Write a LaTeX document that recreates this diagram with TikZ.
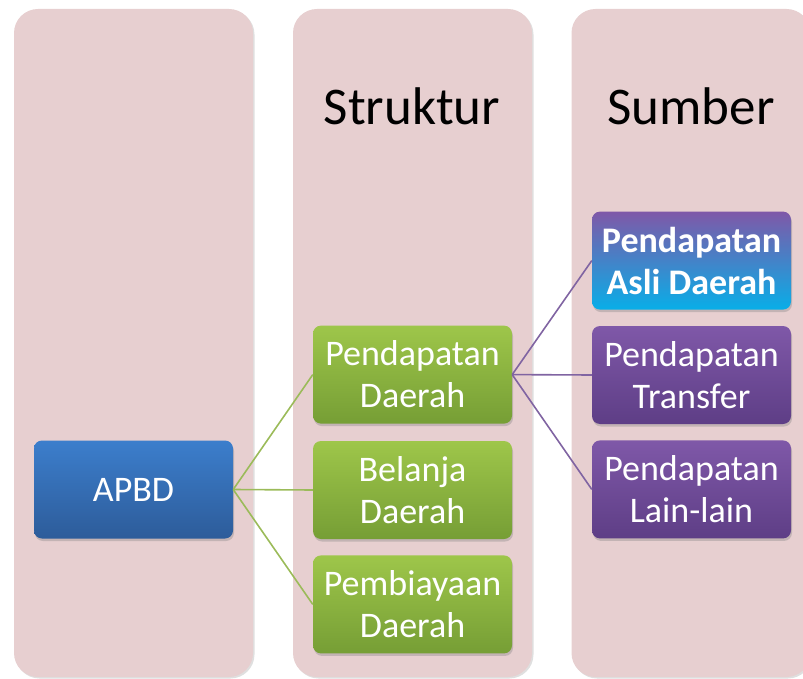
\documentclass[tikz,border=0pt]{standalone}
\usepackage{fontspec}
\setmainfont{Carlito}
\usetikzlibrary{positioning, shadows}

\definecolor{colpink}{RGB}{231,207,208}
\definecolor{apbdtop}{RGB}{60,126,204}
\definecolor{apbdbot}{RGB}{45,92,154}
\definecolor{greentop}{RGB}{158,198,74}
\definecolor{greenbot}{RGB}{118,158,53}
\definecolor{purpletop}{RGB}{127,88,168}
\definecolor{purplebot}{RGB}{94,62,134}
\definecolor{padbot}{RGB}{8,174,232}
\definecolor{greenlink}{RGB}{155,187,89}
\definecolor{purplelink}{RGB}{128,100,162}

\tikzset{
  column/.style={fill=colpink, rounded corners=24pt, minimum width=239pt, minimum height=668pt,
    inner sep=0pt, drop shadow={opacity=0.25, shadow xshift=1.5pt, shadow yshift=-1.5pt}},
  boxbase/.style={rounded corners=8pt, minimum width=199pt, minimum height=98pt, inner sep=0pt,
    align=center, text=white, font=\fontsize{36}{42}\selectfont,
    drop shadow={opacity=0.35, shadow xshift=1pt, shadow yshift=-2.5pt}},
  apbdbox/.style={boxbase, top color=apbdtop, bottom color=apbdbot},
  greenbox/.style={boxbase, top color=greentop, bottom color=greenbot},
  purplebox/.style={boxbase, top color=purpletop, bottom color=purplebot},
  padbox/.style={boxbase, top color=purpletop, bottom color=padbot, font=\fontsize{36}{42}\selectfont\bfseries},
  title/.style={anchor=base, font=\fontsize{53}{60}\selectfont},
  greenline/.style={draw=greenlink, line width=1.6pt},
  purpleline/.style={draw=purplelink, line width=1.6pt}
}

\begin{document}
\begin{tikzpicture}[x=1pt, y=-1pt]
  \useasboundingbox (0,0) rectangle (803,679);

  % columns
  \node[column] (col1) at (133.5,343) {};
  \node[column] (col2) at (412.5,343) {};
  \node[column] (col3) at (691,343) {};

  \node[title] (struktur) at (412,125) {Struktur};
  \node[title] (sumber) at (691,125) {Sumber};

  % APBD
  \node[apbdbox] (apbd) at (133.5,489.5) {APBD};

  % struktur
  \node[greenbox] (belanja) at (412.5,490) {Belanja\\Daerah};
  \node[greenbox, above=17pt of belanja] (pendapatan) {Pendapatan\\Daerah};
  \node[greenbox, below=16pt of belanja] (pembiayaan) {Pembiayaan\\Daerah};

  % sumber
  \node[purplebox] (transfer) at (691.5,375) {Pendapatan\\Transfer};
  \node[padbox, above=16pt of transfer] (pad) {Pendapatan\\Asli Daerah};
  \node[purplebox, below=16pt of transfer] (lain) {Pendapatan\\Lain-lain};

  \draw[greenline] (apbd.east) -- (pendapatan.west);
  \draw[greenline] (apbd.east) -- (belanja.west);
  \draw[greenline] (apbd.east) -- (pembiayaan.west);

  \draw[purpleline] (pendapatan.east) -- (pad.west);
  \draw[purpleline] (pendapatan.east) -- (transfer.west);
  \draw[purpleline] (pendapatan.east) -- (lain.west);
\end{tikzpicture}
\end{document}
